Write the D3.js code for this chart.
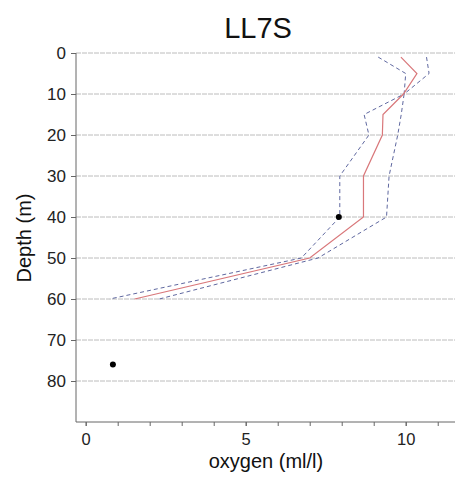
<!DOCTYPE html>
<html><head><meta charset="utf-8">
<script src="https://cdn.jsdelivr.net/npm/d3@7"></script>
<style>
html,body{margin:0;padding:0;background:#fff;}
svg{display:block;font-family:"Liberation Sans",Arial,sans-serif;}
</style></head>
<body>
<svg id="c" width="455" height="478"></svg>
<script>
const title = "LL7S";
const xLabel = "oxygen (ml/l)";
const yLabel = "Depth (m)";
const depths = [1, 5, 10, 15, 20, 30, 40, 50, 60];
const meanOxygen = [9.85, 10.35, 9.93, 9.29, 9.27, 8.68, 8.68, 7.0, 1.53];
const lowerOxygen = [9.14, 10.0, 9.95, 8.70, 8.85, 7.94, 7.94, 6.74, 0.75];
const upperOxygen = [10.65, 10.73, 9.95, 9.86, 9.75, 9.48, 9.40, 7.26, 2.3];
const obsDepth = [40, 76];
const obsOxygen = [7.91, 0.85];
const yTicks = [0, 10, 20, 30, 40, 50, 60, 70, 80];
const xMajorTicks = [0, 5, 10];
const xMinorTicks = [0, 1, 2, 3, 4, 5, 6, 7, 8, 9, 10, 11];

const svg = d3.select("#c");
const L = 76, R = 455, T = 53, B = 422;
const x = d3.scaleLinear().domain([-0.303, 11.54]).range([L, R]);
const y = d3.scaleLinear().domain([0, 90]).range([T, B]);

// gridlines
svg.append("g").selectAll("line").data(yTicks).join("line")
  .attr("x1", L).attr("x2", R)
  .attr("y1", d => y(d)).attr("y2", d => y(d))
  .attr("stroke", "#bcbcbc").attr("stroke-width", 1)
  .attr("stroke-dasharray", "5,1");

// y axis
const yAxis = svg.append("g").attr("transform", `translate(${L},0)`)
  .call(d3.axisLeft(y).tickValues(yTicks).tickSize(5).tickPadding(5));
yAxis.select(".domain").attr("d", `M0,${T}V${B}`).attr("stroke", "#666");
yAxis.selectAll(".tick line").attr("stroke", "#666");
yAxis.selectAll("text").attr("font-size", 17).attr("fill", "#222")
  .attr("font-family", "Liberation Sans, Arial, sans-serif");

// x axis (minor ticks)
const xAxisMinor = svg.append("g").attr("transform", `translate(0,${B})`)
  .call(d3.axisBottom(x).tickValues(xMinorTicks).tickSize(4).tickFormat(""));
xAxisMinor.select(".domain").attr("d", `M${L},0H${R}`).attr("stroke", "#666");
xAxisMinor.selectAll(".tick line").attr("stroke", "#666");

// x axis labels
const xAxis = svg.append("g").attr("transform", `translate(0,${B})`)
  .call(d3.axisBottom(x).tickValues(xMajorTicks).tickSize(4).tickPadding(7).tickFormat(d3.format("d")));
xAxis.select(".domain").remove();
xAxis.selectAll(".tick line").attr("stroke", "#666");
xAxis.selectAll("text").attr("font-size", 16.5).attr("fill", "#222")
  .attr("font-family", "Liberation Sans, Arial, sans-serif");

// lines
const line = vals => d3.line().x((d, i) => x(vals[i])).y(d => y(d))(depths);
svg.append("path").attr("d", line(lowerOxygen)).attr("fill", "none")
  .attr("stroke", "#5f68a0").attr("stroke-width", 1).attr("stroke-dasharray", "4,3");
svg.append("path").attr("d", line(upperOxygen)).attr("fill", "none")
  .attr("stroke", "#5f68a0").attr("stroke-width", 1).attr("stroke-dasharray", "4,3");
svg.append("path").attr("d", line(meanOxygen)).attr("fill", "none")
  .attr("stroke", "#d9777a").attr("stroke-width", 1.2);

// observations
svg.append("g").selectAll("circle").data(obsDepth).join("circle")
  .attr("cx", (d, i) => x(obsOxygen[i])).attr("cy", d => y(d))
  .attr("r", 3).attr("fill", "#000");

// titles
svg.append("text").attr("x", 258).attr("y", 37.5).attr("text-anchor", "middle")
  .attr("font-size", 29).attr("fill", "#111").text(title);
svg.append("text").attr("x", 266).attr("y", 468).attr("text-anchor", "middle")
  .attr("font-size", 20).attr("fill", "#111").text(xLabel);
svg.append("text").attr("transform", "translate(31,238) rotate(-90)")
  .attr("text-anchor", "middle").attr("font-size", 20).attr("fill", "#111").text(yLabel);
</script>
</body></html>
